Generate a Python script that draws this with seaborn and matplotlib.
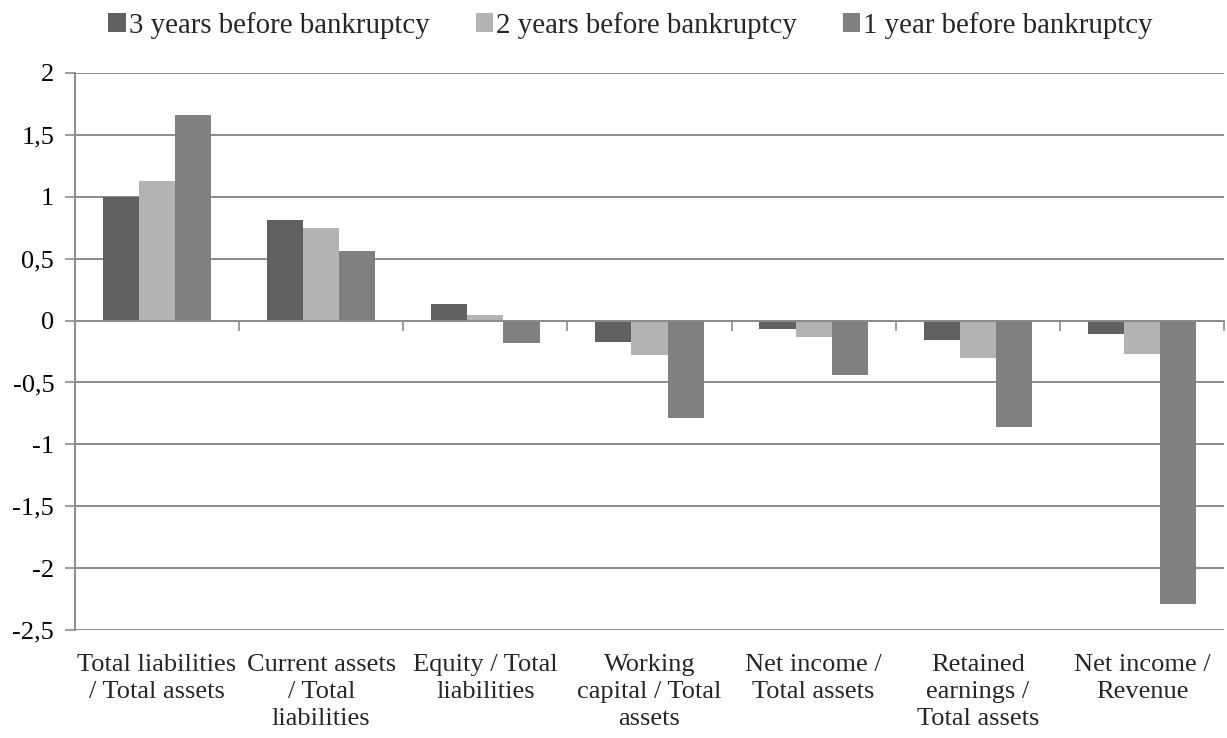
import matplotlib
matplotlib.use("Agg")
import matplotlib.pyplot as plt
import seaborn as sns
import pandas as pd
from matplotlib.ticker import FuncFormatter, FixedLocator

# Financial ratios of bankrupt firms, averaged by years before bankruptcy
ratios = [
    "Total liabilities\n/ Total assets",
    "Current assets\n/ Total\nliabilities",
    "Equity / Total\nliabilities",
    "Working\ncapital / Total\nassets",
    "Net income /\nTotal assets",
    "Retained\nearnings /\nTotal assets",
    "Net income /\nRevenue",
]
periods = ["3 years before bankruptcy", "2 years before bankruptcy", "1 year before bankruptcy"]
three_years = [1.00, 0.81, 0.135, -0.17, -0.065, -0.16, -0.11]
two_years = [1.13, 0.75, 0.045, -0.28, -0.13, -0.30, -0.27]
one_year = [1.66, 0.56, -0.18, -0.79, -0.44, -0.86, -2.29]
y_ticks = [2, 1.5, 1, 0.5, 0, -0.5, -1, -1.5, -2, -2.5]

df = pd.DataFrame({
    "ratio": ratios * 3,
    "period": [periods[0]] * 7 + [periods[1]] * 7 + [periods[2]] * 7,
    "value": three_years + two_years + one_year,
})

sns.set_theme(style="white")
plt.rcParams["font.family"] = ["Liberation Serif", "DejaVu Serif"]

grid_col = "#8c8c8c"
palette = ["#606060", "#b3b3b3", "#808080"]

fig = plt.figure(figsize=(12.27, 7.38), dpi=100)
ax = fig.add_axes([0.0611, 0.1463, 0.9365, 0.7548])

sns.barplot(data=df, x="ratio", y="value", hue="period", order=ratios,
            hue_order=periods, palette=palette, width=0.66, saturation=1,
            linewidth=0, ax=ax, legend=True)

ax.set_xlim(-0.5, 6.5)
ax.set_ylim(-2.5, 2)
ax.set_xlabel("")
ax.set_ylabel("")

# horizontal gridlines
ax.yaxis.set_major_locator(FixedLocator(y_ticks))
ax.yaxis.set_major_formatter(FuncFormatter(lambda v, p: f"{v:g}".replace(".", ",")))
ax.grid(axis="y", color=grid_col, linewidth=1.4)
ax.set_axisbelow(True)
ax.tick_params(axis="y", direction="out", length=7, width=1.2, color=grid_col,
               labelsize=19, labelcolor="black", pad=8, left=True)

for side in ["top", "right"]:
    ax.spines[side].set_visible(False)
ax.spines["left"].set_color(grid_col)
ax.spines["left"].set_linewidth(1.4)

# category axis sits on the zero line with ticks at group boundaries
ax.spines["bottom"].set_position(("data", 0))
ax.spines["bottom"].set_color(grid_col)
ax.spines["bottom"].set_linewidth(1.4)
ax.set_xticks([i - 0.5 for i in range(8)])
ax.set_xticklabels([])
ax.tick_params(axis="x", direction="out", length=7, width=1.2, color=grid_col, bottom=True)

# category names below the plot area
sec = ax.secondary_xaxis("bottom")
sec.set_xticks(range(len(ratios)))
sec.set_xticklabels(ratios, fontsize=19, linespacing=1.3, va="top")
sec.tick_params(length=0, pad=17)
sec.spines["bottom"].set_visible(False)

# legend across the top
handles, labels = ax.get_legend_handles_labels()
ax.legend_.remove()
fig.legend(handles, labels, loc="center", bbox_to_anchor=(0.514, 0.966), ncol=3,
           frameon=False, fontsize=20.8, handlelength=0.6, handleheight=0.6,
           handletextpad=0.1, columnspacing=1.6)

fig.savefig("out.png", dpi=100)
